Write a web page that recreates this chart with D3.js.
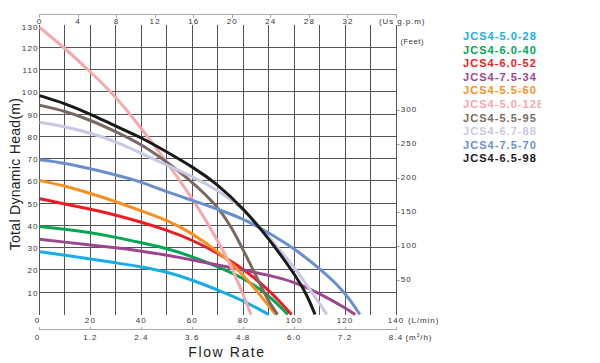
<!DOCTYPE html>
<html><head><meta charset="utf-8">
<script src="https://cdn.jsdelivr.net/npm/d3@7/dist/d3.min.js"></script>
<style>
body{margin:0;background:#fff}
text{font-family:"Liberation Sans",Arial,Helvetica,sans-serif}
</style>
</head><body>
<svg id="chart" width="600" height="363"></svg>
<script>
// ---------- data ----------
const flowTicksLmin = [0, 20, 40, 60, 80, 100, 120, 140];
const flowLabelsM3h = ["0", "1.2", "2.4", "3.6", "4.8", "6.0", "7.2", "8.4"];
const flowTicksGpm = [0, 4, 8, 12, 16, 20, 24, 28, 32];
const headTicksM = [10, 20, 30, 40, 50, 60, 70, 80, 90, 100, 110, 120, 130];
const headTicksFt = [50, 100, 150, 200, 250, 300];
const gridFlow = [0, 10, 20, 30, 40, 50, 60, 70, 80, 90, 100, 110, 120, 130, 140];
const gridHead = [10, 20, 30, 40, 50, 60, 70, 80, 90, 100, 110, 120];

const seriesNames = ["JCS4-5.0-28", "JCS4-6.0-40", "JCS4-6.0-52", "JCS4-7.5-34", "JCS4-5.5-60",
  "JCS4-5.0-128", "JCS4-5.5-95", "JCS4-6.7-88", "JCS4-7.5-70", "JCS4-6.5-98"];
const seriesColors = ["#16ade9", "#00a651", "#ed1c24", "#9e4590", "#f7901e",
  "#f6a8ab", "#7a6962", "#c9c8e5", "#6a8fcd", "#1a1a1a"];

// [flow L/min, head m]
const jcs4_50_28 = [[0,28.2],[10,26.6],[20,25],[30,23.2],[40,21.4],[50,19.2],[60,15.5],[70,11],[80,6.3],[90,0]];
const jcs4_60_40 = [[0,39.5],[10,38.3],[20,36.8],[30,34.7],[40,32.2],[50,29.7],[60,26],[70,21.5],[80,16.5],[90,8.8],[97.5,0]];
const jcs4_60_52 = [[0,52],[10,49.6],[20,47.3],[30,44.7],[40,41.5],[50,37.9],[60,33.5],[70,27.5],[80,20.7],[90,11],[95,5],[99,0]];
const jcs4_75_34 = [[0,33.8],[10,32.5],[20,31.2],[30,30],[40,28.5],[50,26.7],[60,24.5],[70,22.2],[80,20],[90,17.7],[100,14.7],[110,9.5],[120,3],[124,0]];
const jcs4_55_60 = [[0,60.2],[10,57.7],[20,54.4],[30,50.7],[40,46.5],[50,42.4],[60,36.5],[70,28.2],[75,23.5],[80,17.7],[85,11],[90,4],[92.8,0]];
const jcs4_50_128 = [[0,129],[10,119.5],[20,109],[30,97.8],[40,83.6],[50,68.5],[60,52],[65,43],[70,33],[75,22.5],[80,9],[83,0]];
const jcs4_55_95 = [[0,94],[10,91.4],[20,87.3],[30,82.1],[40,76.5],[50,68.5],[60,59.6],[70,48.5],[75,40],[80,29],[85,17.5],[90,5.5],[93.5,0]];
const jcs4_67_88 = [[0,86.3],[10,84.3],[20,81.6],[30,77.6],[40,72.4],[50,67],[60,62],[70,56],[80,47.5],[90,35],[100,21.5],[110,5],[112.8,0]];
const jcs4_75_70 = [[0,69.5],[10,68],[20,65.5],[30,62.7],[40,59.6],[50,55],[60,51.3],[70,47.3],[80,43],[90,36.7],[100,29.7],[110,20.7],[120,10.2],[125.8,0]];
const jcs4_65_98 = [[0,98.3],[10,94.8],[20,90],[30,84.5],[40,79.5],[50,73],[60,66.4],[70,58.5],[80,47.7],[90,34.2],[100,18.5],[105,9],[108.2,0]];
const seriesData = [jcs4_50_28, jcs4_60_40, jcs4_60_52, jcs4_75_34, jcs4_55_60,
  jcs4_50_128, jcs4_55_95, jcs4_67_88, jcs4_75_70, jcs4_65_98];

// ---------- layout ----------
const L = 39.5, R = 396, T = 25, B = 314.5;
const svg = d3.select("#chart");
const x = d3.scaleLinear().domain([0, 140]).range([L, R]);
const xGpm = d3.scaleLinear().domain([0, 140 / 3.78541]).range([L, R]);
const xM3h = d3.scaleLinear().domain([0, 8.4]).range([L, R]);
const y = d3.scaleLinear().domain([0, 130]).range([B, T]);
const yFt = d3.scaleLinear().domain([0, 130 / 0.3048]).range([B, T]);

const tickFont = {size: "8px", spacing: "1.1px", fill: "#333"};

// grid
const grid = svg.append("g").attr("stroke", "#555").attr("stroke-width", 1).attr("shape-rendering", "crispEdges");
grid.selectAll("line.v").data(gridFlow).join("line").attr("class", "v")
  .attr("x1", d => x(d)).attr("x2", d => x(d)).attr("y1", T).attr("y2", B);
grid.selectAll("line.h").data(gridHead).join("line").attr("class", "h")
  .attr("y1", d => y(d)).attr("y2", d => y(d)).attr("x1", L).attr("x2", R);

// top gpm axis
const topY = 14;
const topAxis = svg.append("g");
topAxis.append("line").attr("x1", L).attr("x2", R).attr("y1", topY).attr("y2", topY)
  .attr("stroke", "#aaa").attr("shape-rendering", "crispEdges");
topAxis.selectAll("line.t").data(flowTicksGpm.concat([140 / 3.78541])).join("line").attr("class", "t")
  .attr("x1", d => xGpm(d)).attr("x2", d => xGpm(d)).attr("y1", topY).attr("y2", topY + 4)
  .attr("stroke", "#aaa").attr("shape-rendering", "crispEdges");
topAxis.selectAll("text").data(flowTicksGpm).join("text")
  .attr("x", d => xGpm(d)).attr("y", 23.5).attr("text-anchor", "middle")
  .attr("font-size", tickFont.size).attr("letter-spacing", tickFont.spacing).attr("fill", tickFont.fill)
  .text(d => d);
svg.append("text").attr("x", 379).attr("y", 23.5).attr("font-size", tickFont.size)
  .attr("letter-spacing", "0.9px").attr("fill", "#333").text("(Us g.p.m)");

// left axis labels
svg.append("g").selectAll("text").data(headTicksM).join("text")
  .attr("x", 38.5).attr("y", d => y(d) + (d === 130 ? 5 : 3.5)).attr("text-anchor", "end")
  .attr("font-size", tickFont.size).attr("letter-spacing", tickFont.spacing).attr("fill", tickFont.fill)
  .text(d => d);

// right feet axis labels
svg.append("g").selectAll("text").data(headTicksFt).join("text")
  .attr("x", 397).attr("y", d => yFt(d) + 1.5)
  .attr("font-size", tickFont.size).attr("letter-spacing", tickFont.spacing).attr("fill", tickFont.fill)
  .text(d => "-" + d);
svg.append("text").attr("x", 400.5).attr("y", 43.5).attr("font-size", "7.5px")
  .attr("letter-spacing", "0.6px").attr("fill", "#333").text("(Feet)");

// bottom L/min labels
svg.append("g").selectAll("text").data(flowTicksLmin).join("text")
  .attr("x", d => x(d) - (d === 0 ? 2 : 0)).attr("y", 322.5).attr("text-anchor", "middle")
  .attr("font-size", tickFont.size).attr("letter-spacing", tickFont.spacing).attr("fill", tickFont.fill)
  .text(d => d);
svg.append("text").attr("x", 408).attr("y", 322.5).attr("font-size", tickFont.size)
  .attr("letter-spacing", "0.9px").attr("fill", "#333").text("(L/min)");

// bottom m3/h axis
const m3Y = 329.5;
svg.append("line").attr("x1", L - 1).attr("x2", R + 1).attr("y1", m3Y).attr("y2", m3Y)
  .attr("stroke", "#aaa").attr("shape-rendering", "crispEdges");
svg.append("g").selectAll("line").data(flowLabelsM3h).join("line")
  .attr("x1", d => xM3h(+d)).attr("x2", d => xM3h(+d)).attr("y1", m3Y - 3).attr("y2", m3Y)
  .attr("stroke", "#aaa").attr("shape-rendering", "crispEdges");
svg.append("g").selectAll("text").data(flowLabelsM3h).join("text")
  .attr("x", d => xM3h(+d) - (+d === 0 ? 2 : 0)).attr("y", 339.5).attr("text-anchor", "middle")
  .attr("font-size", tickFont.size).attr("letter-spacing", tickFont.spacing).attr("fill", tickFont.fill)
  .text(d => d);
const m3lab = svg.append("text").attr("x", 405.5).attr("y", 339.5).attr("font-size", tickFont.size)
  .attr("letter-spacing", "0.9px").attr("fill", "#333");
m3lab.append("tspan").text("(m");
m3lab.append("tspan").attr("dy", -3).attr("font-size", "5px").text("3");
m3lab.append("tspan").attr("dy", 3).text("/h)");

// axis titles
svg.append("text").attr("x", 227).attr("y", 356.5).attr("text-anchor", "middle")
  .attr("font-size", "14px").attr("letter-spacing", "1.6px").attr("fill", "#222").text("Flow Rate");
svg.append("text").attr("transform", "translate(19.5,174) rotate(-90)").attr("text-anchor", "middle")
  .attr("font-size", "14px").attr("letter-spacing", "0.3px").attr("fill", "#222").text("Total Dynamic Head(m)");

// curves
const line = d3.line().x(d => x(d[0])).y(d => y(d[1])).curve(d3.curveBasis);
svg.append("g").selectAll("path").data(seriesData).join("path")
  .attr("d", line).attr("fill", "none")
  .attr("stroke", (d, i) => seriesColors[i]).attr("stroke-width", 3);

// legend
svg.append("clipPath").attr("id", "legclip").append("rect")
  .attr("x", 450).attr("y", 0).attr("width", 91).attr("height", 200);
svg.append("g").attr("clip-path", "url(#legclip)").selectAll("text").data(seriesNames).join("text")
  .attr("x", 463).attr("y", (d, i) => 40 + i * 13.6)
  .attr("font-size", "11px").attr("font-weight", "bold").attr("letter-spacing", "1.05px")
  .attr("fill", (d, i) => seriesColors[i]).text(d => d);
</script>
</body></html>
